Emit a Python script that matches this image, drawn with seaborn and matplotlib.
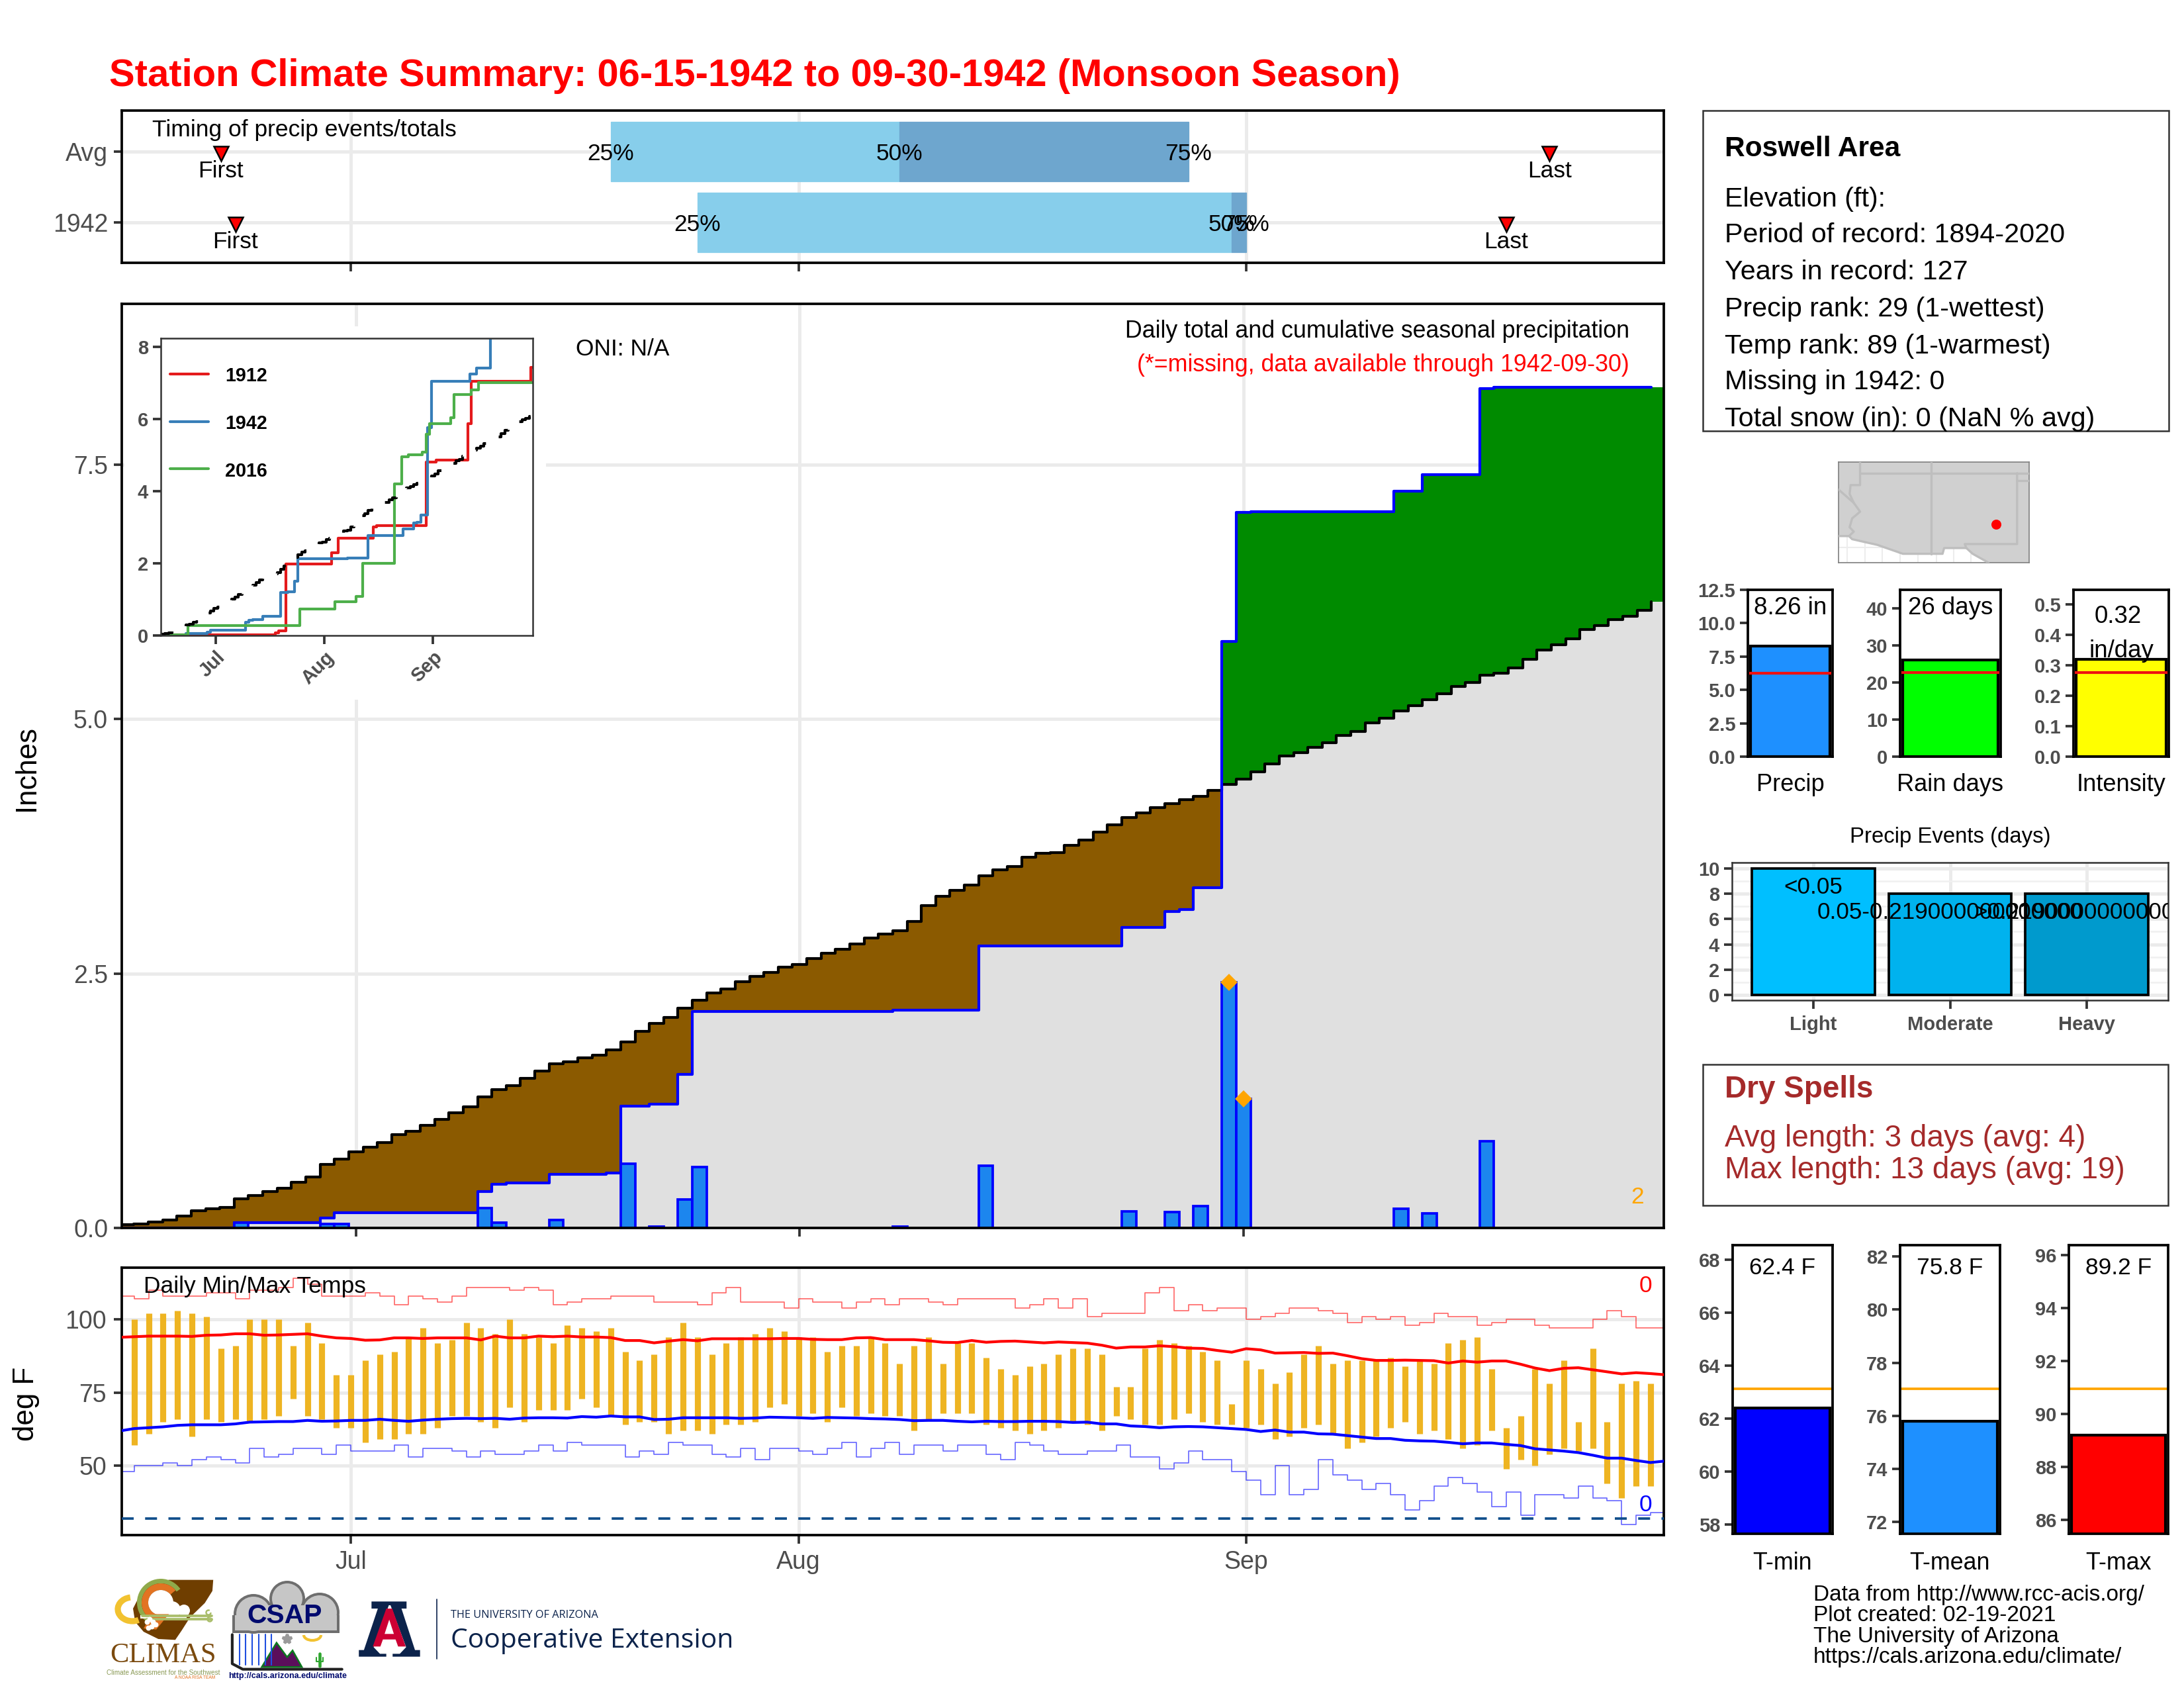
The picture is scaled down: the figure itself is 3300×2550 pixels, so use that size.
import numpy as np
import matplotlib
matplotlib.use("Agg")
import matplotlib.pyplot as plt
from matplotlib.patches import Rectangle, Polygon, Circle, Wedge, Arc, Ellipse
import seaborn as sns

W, H = 3300, 2550

# ---- data ----
# day index: 0 = Jun 15, 16 = Jul 1, 47 = Aug 1, 78 = Sep 1, 107 = Sep 30
month_ticks = [16, 47, 78]
month_labels = ["Jul", "Aug", "Sep"]

avg_cum = [0.03, 0.04, 0.06, 0.08, 0.12, 0.17, 0.19, 0.20, 0.285, 0.32, 0.36, 0.39, 0.45, 0.50,
           0.625, 0.675, 0.745, 0.795, 0.84, 0.92, 0.95, 1.01, 1.065, 1.13, 1.19, 1.29, 1.36, 1.40,
           1.47, 1.54, 1.61, 1.63, 1.67, 1.70, 1.75, 1.83, 1.93, 2.01, 2.07, 2.16, 2.24, 2.31, 2.35,
           2.42, 2.47, 2.51, 2.56, 2.59, 2.65, 2.70, 2.74, 2.79, 2.85, 2.89, 2.92, 3.01, 3.17, 3.26,
           3.32, 3.37, 3.46, 3.52, 3.55, 3.64, 3.68, 3.69, 3.76, 3.81, 3.89, 3.96, 4.03, 4.08, 4.13,
           4.17, 4.21, 4.24, 4.30, 4.36, 4.41, 4.48, 4.56, 4.64, 4.67, 4.72, 4.77, 4.84, 4.88, 4.96,
           5.01, 5.08, 5.13, 5.19, 5.25, 5.32, 5.36, 5.43, 5.45, 5.50, 5.59, 5.68, 5.73, 5.79, 5.88,
           5.92, 5.98, 6.01, 6.07, 6.15]
cum_1942 = ([0.0] * 8 + [0.05] * 6 + [0.10] + [0.15] * 10 + [0.36, 0.43] + [0.44] * 3 + [0.53] * 4
            + [0.54] + [1.20] * 2 + [1.215] * 2 + [1.51] + [2.13] * 14 + [2.14] * 6 + [2.77] * 10
            + [2.95] * 3 + [3.11, 3.13] + [3.345] * 2 + [5.76, 7.03] + [7.04] * 10 + [7.24] * 2
            + [7.40] * 4 + [8.25] + [8.26] * 12)
rain_days = [8, 14, 15, 25, 26, 30, 35, 37, 39, 40, 54, 60, 70, 73, 75, 77, 78, 89, 91, 95]
rain_vals = [0.05, 0.04, 0.04, 0.195, 0.05, 0.08, 0.63, 0.01, 0.28, 0.60, 0.01, 0.61, 0.16, 0.155,
             0.215, 2.41, 1.27, 0.19, 0.14, 0.85]
extreme_days = [77, 78]
extreme_vals = [2.41, 1.27]

# inset years, (day the value changes, new value)
y1912_days = [0, 33, 34, 36, 49, 50, 51, 61, 62, 76, 79, 88, 89, 106]
y1912_vals = [0.02, 0.08, 0.12, 1.98, 2.3, 2.3, 2.70, 3.0, 3.05, 4.8, 4.86, 5.86, 7.03, 7.42]
y2016_days = [0, 8, 40, 50, 56, 58, 67, 69, 71, 75, 76, 77, 83, 84, 89, 91]
y2016_vals = [0.02, 0.27, 0.74, 0.93, 1.09, 2.0, 4.2, 4.95, 5.0, 5.08, 5.58, 5.86, 6.03, 6.67, 6.8, 7.0]

timing_labels = ["Avg", "1942"]
timing_25 = [34, 40]
timing_50 = [54, 77]
timing_75 = [74, 78]
timing_first = [7, 8]
timing_last = [99, 96]

temp_days = np.arange(1, 107)
temp_high = [100, 102, 102, 103, 102, 101, 90, 91, 100, 100, 100, 91, 99, 92, 81, 81, 86, 88, 89, 94,
             97, 92, 93, 99, 97, 95, 100, 95, 94, 92, 98, 97, 96, 97, 89, 86, 88, 94, 99, 94, 88, 92,
             94, 95, 97, 96, 94, 94, 89, 91, 91, 94, 92, 85, 91, 94, 85, 92, 92, 87, 83, 81, 84, 85,
             88, 90, 90, 88, 77, 77, 90, 93, 92, 91, 89, 86, 71, 86, 83, 78, 82, 88, 91, 85, 86, 86,
             86, 87, 84, 86, 85, 92, 93, 94, 83, 63, 67, 83, 78, 86, 65, 90, 65, 78, 79, 78]
temp_low = [57, 61, 65, 66, 60, 66, 65, 66, 65, 66, 67, 73, 67, 66, 63, 63, 58, 59, 59, 61, 61, 63, 67,
            67, 65, 63, 70, 65, 69, 69, 69, 73, 70, 67, 64, 65, 65, 61, 62, 62, 61, 64, 64, 65, 70, 71,
            67, 68, 65, 70, 67, 68, 67, 67, 62, 66, 68, 68, 68, 64, 63, 62, 61, 62, 63, 65, 64, 62, 67,
            66, 64, 64, 66, 68, 65, 64, 64, 63, 64, 59, 60, 63, 64, 61, 56, 58, 60, 63, 65, 61, 62, 59,
            56, 57, 62, 49, 52, 50, 54, 56, 55, 56, 44, 39, 43, 43]
mean_days = np.arange(108)
clim_high = [93.9, 94.1, 94.3, 94.3, 94.3, 94.2, 94.6, 94.7, 95.1, 95.1, 94.6, 94.7, 94.9, 95.1, 94.3, 93.7,
             93.5, 92.9, 93.0, 93.7, 93.7, 93.5, 93.7, 93.7, 93.7, 93.0, 94.3, 93.7, 93.7, 94.3, 94.1, 94.3,
             94.0, 94.0, 93.8, 92.8, 92.8, 92.0, 92.6, 93.1, 92.7, 93.4, 93.4, 93.4, 93.4, 93.4, 93.5, 93.5,
             93.2, 93.1, 93.1, 93.7, 93.8, 93.1, 93.1, 93.1, 92.7, 92.2, 92.1, 92.8, 92.2, 92.5, 92.6, 92.3,
             92.0, 92.3, 92.1, 91.9, 91.2, 90.2, 90.6, 90.6, 91.0, 90.7, 90.2, 90.1, 89.4, 88.8, 90.0, 89.6,
             88.5, 88.6, 88.7, 88.4, 88.5, 87.6, 86.6, 86.0, 86.0, 86.1, 86.0, 85.9, 85.1, 85.8, 85.4, 85.8,
             85.8, 84.7, 83.4, 82.5, 83.3, 83.5, 82.8, 82.1, 81.4, 81.8, 81.5, 81.1]
clim_low = [61.9, 62.7, 63.0, 63.3, 63.8, 64.0, 64.0, 64.0, 64.3, 64.9, 65.0, 65.1, 65.1, 65.5, 65.2, 65.3,
            65.5, 65.5, 65.9, 65.5, 65.2, 65.6, 65.9, 66.1, 66.2, 66.1, 66.2, 65.9, 66.3, 66.4, 66.4, 66.3,
            66.8, 66.6, 67.0, 66.7, 66.7, 65.8, 65.9, 66.4, 66.4, 66.4, 66.4, 66.2, 66.3, 66.6, 66.5, 66.4,
            66.2, 66.5, 66.4, 66.3, 66.1, 66.0, 65.8, 65.4, 65.5, 65.5, 65.2, 65.0, 65.2, 65.1, 65.1, 65.2,
            65.2, 65.1, 64.8, 64.9, 64.3, 64.3, 63.6, 63.4, 63.0, 63.3, 63.4, 63.3, 63.0, 62.7, 62.4, 61.7,
            62.2, 61.5, 61.5, 60.9, 60.8, 60.3, 59.8, 59.3, 59.3, 58.7, 58.5, 58.4, 58.0, 57.5, 57.8, 57.8,
            57.3, 56.9, 55.8, 55.4, 55.0, 54.5, 53.6, 52.6, 52.6, 51.8, 51.1, 51.6]
record_high = [108, 107, 110, 108, 108, 108, 109, 109, 107, 110, 110, 111, 114, 112, 108, 108, 108, 109,
               108, 105, 108, 107, 106, 108, 111, 111, 111, 110, 111, 110, 105, 106, 107, 107, 108, 108,
               108, 106, 106, 106, 105, 109, 111, 106, 106, 106, 104, 107, 106, 106, 104, 106, 107, 105,
               107, 107, 106, 105, 107, 107, 107, 107, 104, 105, 107, 104, 107, 101, 102, 102, 102, 109,
               111, 103, 105, 103, 104, 104, 100, 101, 102, 104, 104, 103, 102, 99, 101, 100, 101, 98,
               99, 102, 101, 101, 98, 99, 100, 100, 98, 97, 97, 97, 100, 103, 101, 97, 97, 97]
record_low = [48, 50, 50, 51, 50, 52, 53, 52, 51, 56, 53, 54, 56, 56, 54, 57, 55, 55, 55, 57, 53, 56, 56, 55,
              53, 55, 54, 54, 55, 57, 55, 58, 57, 57, 57, 53, 55, 54, 58, 57, 57, 54, 53, 56, 52, 56, 56, 55,
              54, 56, 58, 53, 56, 58, 54, 57, 57, 55, 57, 57, 54, 52, 58, 57, 55, 54, 54, 55, 55, 57, 53, 53,
              49, 51, 55, 52, 52, 48, 45, 40, 50, 40, 42, 52, 47, 45, 42, 44, 40, 35, 38, 43, 46, 44, 41, 36,
              41, 33, 40, 40, 39, 43, 39, 38, 30, 33, 34, 34]
freezing_f = 32

stat_labels = ["Precip", "Rain days", "Intensity"]
stat_vals = [8.26, 26, 0.32]
stat_avgs = [6.27, 22.6, 0.276]
stat_colors = ["#1E90FF", "#00FF00", "#FFFF00"]
stat_tops = [12.5, 44.9, 0.548]
stat_ticks = [[0, 2.5, 5, 7.5, 10, 12.5], [0, 10, 20, 30, 40], [0, 0.1, 0.2, 0.3, 0.4, 0.5]]
stat_ticklabels = [["0.0", "2.5", "5.0", "7.5", "10.0", "12.5"], ["0", "10", "20", "30", "40"],
                   ["0.0", "0.1", "0.2", "0.3", "0.4", "0.5"]]

event_cats = ["Light", "Moderate", "Heavy"]
event_days = [10, 8, 8]
event_colors = ["#00BFFF", "#00B2EE", "#009ACD"]
event_notes = ["<0.05", "0.05-0.219000000000000", ">0.219000000000000"]

t_labels = ["T-min", "T-mean", "T-max"]
t_vals = [62.4, 75.8, 89.2]
t_avgs = [63.11, 77.01, 90.94]
t_colors = ["#0000FF", "#1E90FF", "#FF0000"]
t_lims = [(57.64, 68.55), (71.55, 82.43), (85.48, 96.37)]
t_ticks = [[58, 60, 62, 64, 66, 68], [72, 74, 76, 78, 80, 82], [86, 88, 90, 92, 94, 96]]

info_lines = ["Elevation (ft):", "Period of record: 1894-2020", "Years in record: 127",
              "Precip rank: 29 (1-wettest)", "Temp rank: 89 (1-warmest)", "Missing in 1942: 0",
              "Total snow (in): 0 (NaN % avg)"]
footer_lines = ["Data from http://www.rcc-acis.org/", "Plot created: 02-19-2021",
                "The University of Arizona", "https://cals.arizona.edu/climate/"]

# regional map outline (units are arbitrary map units)
land_x = [477, 510, 520, 600, 680, 805, 810, 880, 900, 950, 1078, 1078, 477]
land_y = [985, 985, 992, 1005, 1025, 1025, 1012, 1012, 1025, 1045, 1045, 818, 818]
border_az_x = [545, 545, 515, 512, 525, 545, 520, 512, 525, 510]
border_az_y = [818, 870, 870, 890, 910, 930, 945, 965, 975, 985]
border_nv_x = [477, 525]
border_nv_y = [880, 910]
border_north_x = [545, 1078]
border_north_y = [843, 843]
border_mid_x = [770, 770]
border_mid_y = [818, 1025]
border_tx_x = [1040, 1040, 875, 880]
border_tx_y = [843, 1003, 1003, 1012]
border_ok_x = [1040, 1078]
border_ok_y = [860, 860]
station_x = [974]
station_y = [959]

# ---- style ----
sns.set_theme(style="ticks")
plt.rcParams["font.family"] = ["Liberation Sans", "DejaVu Sans"]
GRID = "#EBEBEB"
TXT = "#4D4D4D"
DARK = "#333333"

fig = plt.figure(figsize=(11, 8.5), dpi=300)


def axpx(x0, y0, x1, y1, **kw):
    return fig.add_axes([x0 / W, 1 - y1 / H, (x1 - x0) / W, (y1 - y0) / H], **kw)


def frame(ax, color="black", lw=0.9):
    for s in ax.spines.values():
        s.set_visible(True)
        s.set_color(color)
        s.set_linewidth(lw)


def bold_ticks(ax, size=7):
    ax.tick_params(axis="both", labelsize=size, labelcolor=TXT, color=DARK, width=0.9, length=3, pad=1.5)
    for lab in ax.get_xticklabels() + ax.get_yticklabels():
        lab.set_fontweight("bold")


days = np.arange(108)

# ---- timing panel ----
ax = axpx(184, 167, 2514, 397)
ax.barh(range(2), np.subtract(timing_50, timing_25), left=timing_25, height=0.84, color="#87CEEB",
        ec="#87CEEB", lw=0.3, zorder=2)
ax.barh(range(2), np.subtract(timing_75, timing_50), left=timing_50, height=0.84, color="#6EA6CE",
        ec="#6EA6CE", lw=0.3, zorder=2.1)
for i in range(2):
    for pos, name in zip([timing_25[i], timing_50[i], timing_75[i]], ["25%", "50%", "75%"]):
        ax.text(pos, i + 0.03, name, ha="center", va="center", fontsize=8.5, color="black", zorder=4)
    for pos, name in zip([timing_first[i], timing_last[i]], ["First", "Last"]):
        ax.plot([pos], [i + 0.03], marker="v", ms=5.5, mfc="red", mec="black", mew=0.6, zorder=4)
        ax.text(pos, i + 0.28, name, ha="center", va="center", fontsize=8.5, color="black", zorder=4)
ax.set_xlim(0.14, 106.92)
ax.set_ylim(1.57, -0.58)
ax.set_yticks(range(2), timing_labels)
ax.set_xticks(month_ticks, ["", "", ""])
ax.grid(True, color=GRID, lw=1.2)
ax.set_axisbelow(True)
ax.tick_params(labelsize=9, labelcolor=TXT, color=DARK, width=0.9, length=3, pad=2)
frame(ax)

# ---- main precip panel ----
ax = axpx(184, 459, 2514, 1855)
fill_x = np.append(days - 0.5, 107.4)
avg_fill = np.append(avg_cum, avg_cum[-1])
cum_fill = np.append(cum_1942, cum_1942[-1])
ax.fill_between(fill_x, 0, avg_fill, step="post", color="#8B5A00", lw=0, zorder=1)
ax.fill_between(fill_x, 0, cum_fill, step="post", color="#008B00", lw=0, zorder=1.1)
ax.fill_between(fill_x, 0, np.minimum(avg_fill, cum_fill), step="post", color="#E0E0E0", lw=0, zorder=1.2)
sns.lineplot(x=days - 0.5, y=avg_cum, drawstyle="steps-post", color="black", lw=1.0, errorbar=None,
             ax=ax, zorder=2)
sns.lineplot(x=days - 0.5, y=cum_1942, drawstyle="steps-post", color="#0000FF", lw=1.0, errorbar=None,
             ax=ax, zorder=2.1)
sns.barplot(x=rain_days, y=rain_vals, native_scale=True, orient="x", width=1.0, color="#1C86EE", saturation=1,
            edgecolor="#0000FF", linewidth=0.9, ax=ax, zorder=2.2)
ax.plot(extreme_days, extreme_vals, ls="none", marker="D", ms=3.4, mfc="#FFA500", mec="#FFA500", zorder=3)
ax.set_xlim(-0.35, 107.36)
ax.set_ylim(0, 9.08)
ax.set_yticks([0, 2.5, 5, 7.5], ["0.0", "2.5", "5.0", "7.5"])
ax.set_xticks(month_ticks, ["", "", ""])
ax.grid(True, color=GRID, lw=1.2)
ax.set_axisbelow(True)
ax.tick_params(labelsize=9, labelcolor=TXT, color=DARK, width=0.9, length=3, pad=2)
frame(ax)
# white background of the inset hides the grid behind it
ax.add_patch(Rectangle((188 / W, 1 - 1057 / H), (825 - 188) / W, (1057 - 493) / H, transform=fig.transFigure,
                       fc="white", ec="none", zorder=0.8))

# ---- inset of cumulative years ----
ins = axpx(243, 511, 805, 960, zorder=3)
sns.lineplot(x=y1912_days + [107], y=y1912_vals + [7.42], drawstyle="steps-post", color="#E41A1C", lw=1.0,
             errorbar=None, ax=ins)
sns.lineplot(x=days - 0.5, y=cum_1942, drawstyle="steps-post", color="#377EB8", lw=1.0, errorbar=None, ax=ins)
sns.lineplot(x=y2016_days + [107], y=y2016_vals + [7.0], drawstyle="steps-post", color="#4DAF4A", lw=1.0,
             errorbar=None, ax=ins)
sns.lineplot(x=days - 0.5, y=avg_cum, drawstyle="steps-post", color="black", lw=1.0, errorbar=None, ax=ins,
             linestyle=(0, (6, 7)))
ins.set_xlim(0.31, 106.5)
ins.set_ylim(0, 8.23)
ins.set_yticks([0, 2, 4, 6, 8])
ins.set_xticks(month_ticks, month_labels)
bold_ticks(ins, 7)
for lab in ins.get_xticklabels():
    lab.set_rotation(45)
    lab.set_ha("right")
    lab.set_rotation_mode("anchor")
frame(ins, DARK, 0.6)

# ---- temperature panel ----
ax = axpx(184, 1915, 2514, 2319)
ax.vlines(temp_days, temp_low, temp_high, color="#EEB422", lw=2.2, zorder=2)
sns.lineplot(x=days, y=record_high, drawstyle="steps-post", color="#FF0000", lw=0.4, alpha=0.6, errorbar=None,
             ax=ax, zorder=2)
sns.lineplot(x=days, y=record_low, drawstyle="steps-post", color="#0000FF", lw=0.4, alpha=0.6, errorbar=None,
             ax=ax, zorder=2)
sns.lineplot(x=mean_days, y=clim_high, color="#FF0000", lw=1.0, errorbar=None, ax=ax, zorder=3)
sns.lineplot(x=mean_days, y=clim_low, color="#0000FF", lw=1.0, errorbar=None, ax=ax, zorder=3)
ax.axhline(freezing_f, color="#104E8B", lw=0.9, linestyle=(0, (4.8, 4.6)), zorder=3)
ax.set_xlim(0.14, 106.92)
ax.set_ylim(26.3, 117.7)
ax.set_yticks([50, 75, 100])
ax.set_xticks(month_ticks, month_labels)
ax.grid(True, color=GRID, lw=1.2)
ax.set_axisbelow(True)
ax.tick_params(labelsize=9, labelcolor=TXT, color=DARK, width=0.9, length=3, pad=2.5)
frame(ax)

# ---- map ----
ax = axpx(2778, 698, 3066, 850)
ax.fill(land_x, land_y, color="#D0D0D0", lw=0, zorder=2)
for bx, by in [(border_az_x, border_az_y), (border_nv_x, border_nv_y), (border_north_x, border_north_y),
               (border_mid_x, border_mid_y), (border_tx_x, border_tx_y), (border_ok_x, border_ok_y),
               (land_x[:10], land_y[:10])]:
    ax.plot(bx, by, color="#BEBEBE", lw=0.8, zorder=3)
ax.plot(station_x, station_y, ls="none", marker="o", ms=2.6, color="red", zorder=4)
ax.set_xlim(477, 1078)
ax.set_ylim(1045, 818)
ax.set_xticks([505, 560, 615, 672, 728, 785, 840, 895], [""] * 8)
ax.set_yticks([1010], [""])
ax.grid(True, color="#EDEDED", lw=0.5)
ax.set_axisbelow(True)
ax.tick_params(length=0)
frame(ax, "#7F7F7F", 0.4)

# ---- season stats bars ----
stat_boxes = [(2641, 2769), (2871, 3023), (3133, 3277)]
stat_texts = ["8.26 in", "26 days", None]
for i, (x0, x1) in enumerate(stat_boxes):
    ax = axpx(x0, 891, x1, 1143)
    sns.barplot(x=[stat_labels[i]], y=[stat_vals[i]], color=stat_colors[i], saturation=1, width=0.9,
                edgecolor="black", linewidth=1.0, ax=ax, zorder=1)
    ax.axhline(stat_avgs[i], color="#EE1111", lw=1.0, zorder=2)
    ax.set_xlim(-0.477, 0.477)
    ax.set_ylim(0, stat_tops[i])
    ax.set_yticks(stat_ticks[i], stat_ticklabels[i])
    bold_ticks(ax, 7)
    ax.tick_params(axis="x", length=0, labelsize=8.7, labelcolor="black", pad=6)
    for lab in ax.get_xticklabels():
        lab.set_fontweight("normal")
    frame(ax)
    if stat_texts[i]:
        ax.text(0.5, 0.89, stat_texts[i], transform=ax.transAxes, ha="center", va="center", fontsize=8.8,
                color="black")
    else:
        ax.text(0.465, 0.838, "0.32", transform=ax.transAxes, ha="center", va="center", fontsize=8.8, color="black")
        ax.text(0.5, 0.632, "in/day", transform=ax.transAxes, ha="center", va="center", fontsize=8.8, color="black")

# ---- precip events ----
ax = axpx(2617, 1303, 3276, 1511)
sns.barplot(x=event_cats, y=event_days, hue=event_cats, palette=event_colors, legend=False, saturation=1, width=0.9,
            edgecolor="black", linewidth=0.9, ax=ax, zorder=2)
ax.set_xlim(-0.595, 2.595)
ax.set_ylim(-0.41, 10.45)
ax.set_yticks(range(0, 11, 2))
ax.set_yticks(range(1, 11, 2), minor=True)
ax.grid(True, which="major", color=GRID, lw=1.2)
ax.grid(True, which="minor", axis="y", color="#F0F0F0", lw=0.6)
ax.set_axisbelow(True)
bold_ticks(ax, 7)
ax.tick_params(axis="x", pad=2.5)
ax.tick_params(axis="y", which="minor", length=0)
frame(ax, DARK, 0.6)
for i, note in enumerate(event_notes):
    ax.text(i, event_days[i] - 1.5, note, ha="center", va="center", fontsize=8.4, color="black", clip_on=True,
            zorder=4)

# ---- seasonal temperature bars ----
t_boxes = [(2618, 2769), (2871, 3022), (3126, 3276)]
for i, (x0, x1) in enumerate(t_boxes):
    ax = axpx(x0, 1881, x1, 2317)
    sns.barplot(x=[t_labels[i]], y=[t_vals[i]], color=t_colors[i], saturation=1, width=0.9, edgecolor="black",
                linewidth=1.0, ax=ax, zorder=1)
    ax.axhline(t_avgs[i], color="#FFA500", lw=0.9, zorder=2)
    ax.set_xlim(-0.477, 0.477)
    ax.set_ylim(*t_lims[i])
    ax.set_yticks(t_ticks[i])
    bold_ticks(ax, 7)
    ax.tick_params(axis="x", length=0, labelsize=8.6, labelcolor="black", pad=6.5)
    for lab in ax.get_xticklabels():
        lab.set_fontweight("normal")
    frame(ax)
    ax.text(0.5, 0.922, f"{t_vals[i]} F", transform=ax.transAxes, ha="center", va="center", fontsize=8.5,
            color="black")

# ---- overlay in pixel coordinates: free text, legend keys, boxes, logos ----
ov = fig.add_axes([0, 0, 1, 1], zorder=10)
ov.set_xlim(0, W)
ov.set_ylim(H, 0)
ov.axis("off")
ov.patch.set_alpha(0)


def label(x, y, s, **kw):
    kw.setdefault("va", "center")
    kw.setdefault("ha", "left")
    kw.setdefault("fontsize", 8.5)
    kw.setdefault("color", "black")
    ov.text(x, y + 3.5, s, **kw)


label(165, 111, "Station Climate Summary: 06-15-1942 to 09-30-1942 (Monsoon Season)", color="red",
      fontweight="bold", fontsize=13.9)
label(230, 193, "Timing of precip events/totals")
label(870, 524, "ONI: N/A")
label(2462, 497, "Daily total and cumulative seasonal precipitation", ha="right", fontsize=8.6)
label(2462, 548, "(*=missing, data available through 1942-09-30)", ha="right", color="red", fontsize=8.6)
label(2474, 1805, "2", ha="center", color="#FFA500")
label(217, 1940, "Daily Min/Max Temps")
label(2486, 1939, "0", ha="center", color="red")
label(2486, 2270, "0", ha="center", color="#0000FF")
label(40, 1157, "Inches", rotation=90, ha="center", fontsize=10.5)
label(40, 2117, "deg F", rotation=90, ha="center", fontsize=10.5)

for y, name, col in zip([565, 637, 708], ["1912", "1942", "2016"], ["#E41A1C", "#377EB8", "#4DAF4A"]):
    ov.plot([257, 315], [y, y], color=col, lw=1.0)
    label(340, y, name, fontweight="bold", fontsize=6.9)

ov.add_patch(Rectangle((2573, 167), 704, 484, fc="none", ec=DARK, lw=0.6))
label(2606, 222, "Roswell Area", fontweight="bold", fontsize=10.2)
for y, line in zip([297, 352, 408, 463, 519, 574, 630], info_lines):
    label(2606, y, line, fontsize=9.9)

label(2947, 1261, "Precip Events (days)", ha="center", fontsize=7.9)

ov.add_patch(Rectangle((2573, 1608), 703, 213, fc="none", ec=DARK, lw=0.6))
label(2606, 1642, "Dry Spells", color="#A52A2A", fontweight="bold", fontsize=11)
label(2606, 1716, "Avg length: 3 days (avg: 4)", color="#A52A2A", fontsize=11)
label(2606, 1765, "Max length: 13 days (avg: 19)", color="#A52A2A", fontsize=11)

for y, line in zip([2406, 2437, 2469, 2500], footer_lines):
    label(2740, y, line, fontsize=8)


# logos, positions taken from a crop: x = 150 + d / 1.568, y = 2350 + d / 3
def lg(pts):
    return [(150 + a / 1.568, 2350 + b / 3) for a, b in pts]


# CLIMAS
ov.add_patch(Polygon(lg([(165, 110), (270, 110), (268, 160), (250, 215), (215, 280), (195, 340), (180, 382),
                         (140, 378), (105, 345), (85, 300), (80, 240), (100, 165), (130, 125)]),
                     fc="#6F3E00", ec="none"))
ov.add_patch(Wedge((243, 2421), 36, 110, 325, width=7, fc="#8FAA4B", ec="none"))
ov.add_patch(Wedge((243, 2421), 29, 100, 320, width=10, fc="#E27322", ec="none"))
ov.add_patch(Circle((243, 2421), 19, fc="white", ec="none"))
ov.add_patch(Circle((260, 2432), 13, fc="white", ec="none"))
ov.add_patch(Circle((278, 2433), 9, fc="white", ec="none"))
ov.add_patch(Rectangle((212, 2440), 70, 5, fc="white", ec="none"))
ov.add_patch(Arc((200, 2431), 44, 36, theta1=60, theta2=260, color="#F2C230", lw=2.2))
ov.plot([215, 320], [2441, 2441], color="#A9BD6A", lw=0.9)
ov.plot([222, 320], [2446, 2446], color="#A9BD6A", lw=0.9)
ov.add_patch(Polygon(lg([(105, 330), (125, 265), (165, 265), (135, 335)]), fc="#E27322", ec="none"))
ov.plot([222, 226, 231, 235, 229, 224], [2450, 2446, 2450, 2454, 2457, 2459], ls="none", marker="o", ms=0.9,
        color="white")
ov.add_patch(Arc((315, 2436), 7, 7, theta1=0, theta2=300, color="#A9BD6A", lw=0.6))
ov.add_patch(Arc((317, 2446), 7, 7, theta1=0, theta2=300, color="#A9BD6A", lw=0.6))
label(247, 2497, "CLIMAS", family="Liberation Serif", ha="center", color="#7B4A0E", fontsize=10.2)
label(247, 2523, "Climate Assessment for the Southwest", ha="center", color="#8A9A55", fontsize=2.4)
label(295, 2531, "A NOAA RISA TEAM", ha="center", color="#E27322", fontsize=1.6)

# CSAP cloud
for col, grow in [("#6E6E6E", 0), ("#C6C6C6", -4)]:
    ov.add_patch(Circle((383, 2438), 30 + grow, fc=col, ec="none"))
    ov.add_patch(Circle((434, 2415), 27 + grow, fc=col, ec="none"))
    ov.add_patch(Circle((483, 2436), 30 + grow, fc=col, ec="none"))
    ov.add_patch(Rectangle((351 - grow, 2440), 162 + 2 * grow, 27 + grow, fc=col, ec="none"))
    ov.add_patch(Rectangle((383, 2425), 100, 30, fc=col, ec="none"))
label(430, 2438, "CSAP", ha="center", color="#000A6E", fontweight="bold", fontsize=9.8)
ov.plot(*zip(*lg([(315, 358), (315, 490), (340, 515), (575, 515)])), color="#222222", lw=1.0)
for d in [332, 347, 362, 378, 393, 408]:
    ov.plot(*zip(*lg([(d, 357), (d, 495)])), color="#1F4FE0", lw=0.5)
ov.add_patch(Polygon(lg([(385, 505), (420, 395), (445, 460), (458, 430), (480, 505)]), fc="#5B0F5B", ec="#0B7A1E",
                     lw=0.6))
ov.plot(*zip(*lg([(522, 445), (522, 500)])), color="#2FA52F", lw=1.1)
ov.plot(*zip(*lg([(514, 462), (514, 480), (530, 480), (530, 462)])), color="#2FA52F", lw=0.5)
ov.add_patch(Arc((472, 2470), 26, 16, theta1=0, theta2=180, color="#F2C230", lw=1.0))
ov.plot(*zip(*lg([(445, 378)])), marker="*", ms=3.5, color="#9A9A9A", ls="none")
label(435, 2528, "http://cals.arizona.edu/climate", ha="center", color="#000A6E", fontweight="bold", fontsize=3)

# University of Arizona block A
block_a = lg([(645, 208), (728, 208), (728, 240), (716, 240), (748, 428), (760, 428), (760, 458), (695, 458),
              (695, 428), (708, 428), (703, 398), (672, 398), (667, 428), (680, 428), (680, 458), (615, 458),
              (615, 428), (627, 428), (660, 240), (645, 240)])
ov.add_patch(Polygon(block_a, fc="#0C234B", ec="none"))
ov.add_patch(Polygon(lg([(686, 225), (650, 415), (665, 445), (712, 445), (727, 415), (690, 225)]), fc="white",
                     ec="none"))
ov.add_patch(Polygon(lg([(680, 240), (694, 240), (726, 412), (708, 412), (702, 380), (672, 380), (666, 412),
                         (648, 412)]), fc="#CC0033", ec="none"))
ov.add_patch(Polygon(lg([(687, 290), (676, 355), (698, 355)]), fc="white", ec="none"))
ov.plot(*zip(*lg([(800, 198), (800, 468)])), color="#0C234B", lw=0.4)
label(681, 2437, "THE UNIVERSITY OF ARIZONA", family="Open Sans", color="#0C234B", fontsize=3.9)
label(681, 2475, "Cooperative Extension", family="Open Sans", color="#0C234B", fontsize=9.8)

fig.savefig("out.png", dpi=300, facecolor="white")
